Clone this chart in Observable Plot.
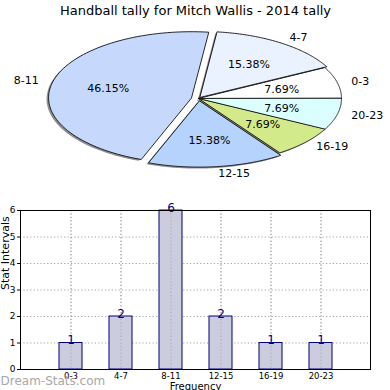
<!DOCTYPE html>
<html>
<head>
<meta charset="utf-8">
<script src="https://cdn.jsdelivr.net/npm/d3@7"></script>
<script src="https://cdn.jsdelivr.net/npm/@observablehq/plot@0.6"></script>
<style>
  html, body { margin: 0; padding: 0; background: #fff; }
  #chart svg { display: block; overflow: visible; }
</style>
</head>
<body>
<div id="chart"></div>
<script>
const title = "Handball tally for Mitch Wallis - 2014 tally";
const categories = ["0-3", "4-7", "8-11", "12-15", "16-19", "20-23"];
const counts = [1, 2, 6, 2, 1, 1];
const sliceColors = ["#ffffff", "#ebf2ff", "#c6d9fd", "#b6d3fe", "#d3ea8b", "#dbffff"];
const explode = [0, 0.02, 0.05, 0.04, 0, 0];
const yTicks = [0, 1, 2, 3, 4, 5, 6];
const xLabel = "Frequency";
const yLabel = "Stat Intervals";
const watermark = "Dream-Stats.com";

const font = "DejaVu Sans, sans-serif";
const total = d3.sum(counts);
const ends = d3.cumsum(counts);
const slices = categories.map((c, i) => {
  const a0 = (ends[i] - counts[i]) / total * 2 * Math.PI;
  const a1 = ends[i] / total * 2 * Math.PI;
  const mid = (a0 + a1) / 2;
  const ox = explode[i] * Math.cos(mid), oy = explode[i] * Math.sin(mid);
  const pts = [{u: ox, v: oy}];
  const n = 80;
  for (let k = 0; k <= n; k++) {
    const a = a0 + (a1 - a0) * k / n;
    pts.push({u: ox + Math.cos(a), v: oy + Math.sin(a)});
  }
  return {cat: c, count: counts[i], color: sliceColors[i], mid, ox, oy, pts,
    pct: d3.format(".2f")(counts[i] / total * 100) + "%"};
});
const shadowShift = {u: -0.014, v: -0.022};

const labelPts = slices.map(s => ({
  label: s.cat, u: s.ox + 1.1 * Math.cos(s.mid), v: s.oy + 1.1 * Math.sin(s.mid), right: Math.cos(s.mid) >= 0
}));
const pctPts = slices.map(s => ({
  label: s.pct, u: s.ox + 0.6 * Math.cos(s.mid), v: s.oy + 0.6 * Math.sin(s.mid)
}));

const pie = Plot.plot({
  width: 390, height: 195,
  margin: 0,
  style: {fontFamily: font, background: "#fff"},
  x: {domain: [(0 - 198) / 143, (390 - 198) / 143], axis: null},
  y: {domain: [(98 - 195) / 66, 98 / 66], axis: null},
  marks: [
    ...slices.map(s => Plot.line(s.pts.map(p => ({u: p.u + shadowShift.u, v: p.v + shadowShift.v})), {
      x: "u", y: "v", curve: "linear-closed", fill: "#333", fillOpacity: 0.55, stroke: "none"
    })),
    ...slices.map(s => Plot.line(s.pts, {
      x: "u", y: "v", curve: "linear-closed", fill: s.color, stroke: "#111", strokeWidth: 0.9
    })),
    Plot.text(labelPts.filter(d => d.right), {x: "u", y: "v", text: "label", textAnchor: "start", fontSize: 11, fill: "#000"}),
    Plot.text(labelPts.filter(d => !d.right), {x: "u", y: "v", text: "label", textAnchor: "end", fontSize: 11, fill: "#000"}),
    Plot.text(pctPts, {x: "u", y: "v", text: "label", fontSize: 11, fill: "#000"}),
    Plot.text([title], {frameAnchor: "top", lineAnchor: "middle", dy: 10, fontSize: 13, fill: "#000"})
  ]
});

const barData = categories.map((c, i) => ({cat: c, count: counts[i]}));
const bars = Plot.plot({
  width: 390, height: 195,
  marginTop: 15, marginBottom: 21, marginLeft: 20, marginRight: 20,
  style: {fontFamily: font, background: "#fff", overflow: "visible"},
  x: {type: "band", domain: categories, paddingInner: 0.54, paddingOuter: 0.77, axis: null},
  y: {domain: [0, 6], axis: null},
  marks: [
    Plot.gridY({ticks: yTicks.filter(t => t > 0 && t < 6), stroke: "#999", strokeOpacity: 0.9, strokeDasharray: "1.2,2.2"}),
    Plot.ruleX(categories, {x: d => d, stroke: "#999", strokeOpacity: 0.9, strokeDasharray: "1.2,2.2"}),
    Plot.barY(barData, {x: "cat", y: "count", fill: "#ccccdf", stroke: "#000080", strokeWidth: 1}),
    Plot.ruleX(categories, {x: d => d, stroke: "#999", strokeOpacity: 0.7, strokeDasharray: "1.2,2.2"}),
    Plot.text(barData, {x: "cat", y: "count", text: d => String(d.count), lineAnchor: "bottom", dy: 1, fontSize: 12, fill: "#000080"}),
    Plot.frame({stroke: "#000", strokeWidth: 1}),
    Plot.axisY({ticks: yTicks, tickSize: 3, tickPadding: 2, fontSize: 9, tickFormat: d => String(d), color: "#000", label: null}),
    Plot.axisX({tickSize: 0, tickPadding: 3, fontSize: 8.5, color: "#000", label: null}),
    Plot.text([xLabel], {frameAnchor: "bottom", lineAnchor: "middle", dy: 17.5, fontSize: 10, fill: "#000"}),
    Plot.text([yLabel], {frameAnchor: "left", rotate: -90, dx: -15, fontSize: 11, fill: "#000"}),
    Plot.text([watermark], {frameAnchor: "bottom-left", textAnchor: "start", lineAnchor: "middle", dx: -20, dy: 12, fontSize: 12, fill: "#a8a8a8"})
  ]
});

document.getElementById("chart").append(pie, bars);
</script>
</body>
</html>
